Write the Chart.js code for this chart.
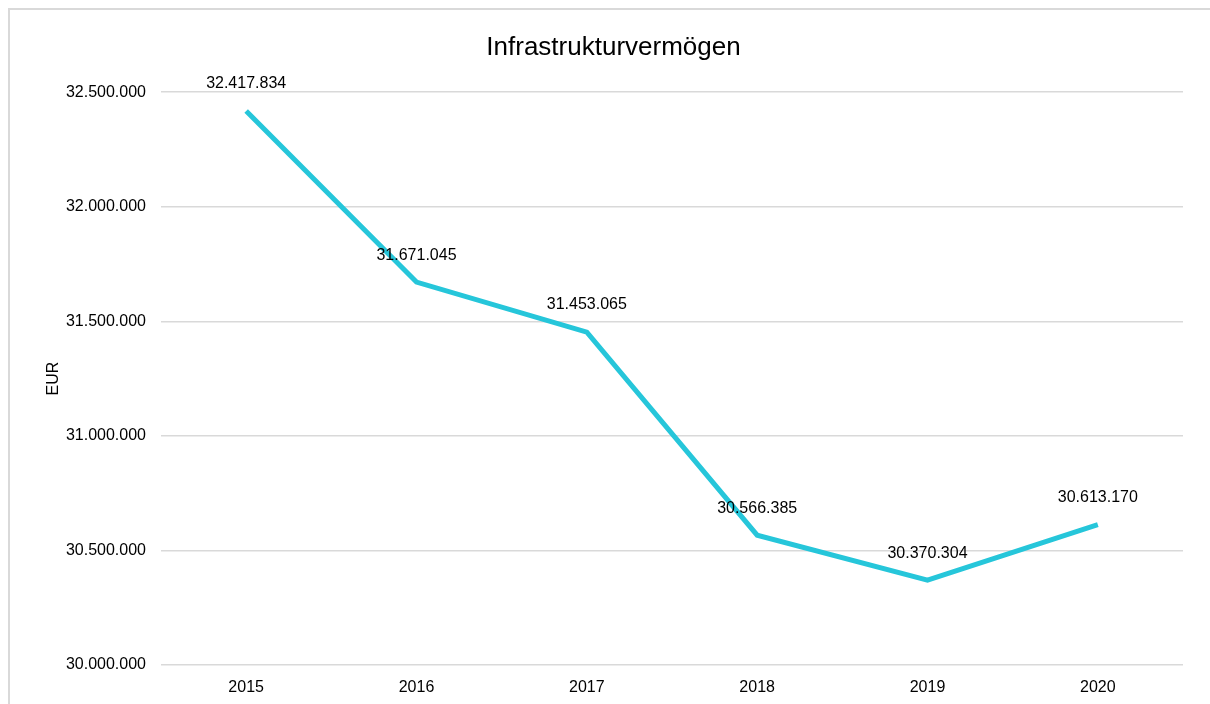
<!DOCTYPE html>
<html>
<head>
<meta charset="utf-8">
<script src="https://cdn.jsdelivr.net/npm/chart.js@4/dist/chart.umd.min.js"></script>
<style>
  html, body { margin: 0; padding: 0; background: #fff; overflow: hidden; }
  #frame { position: absolute; left: 8px; top: 8px; width: 1220px; height: 720px; border: 2px solid #d9d9d9; }
  #wrap { position: absolute; left: 0; top: 0; width: 1210px; height: 704px; }
</style>
</head>
<body>
<div id="frame"></div>
<div id="wrap"><canvas id="chart"></canvas></div>
<script>
const years = ["2015", "2016", "2017", "2018", "2019", "2020"];
const values = [32417834, 31671045, 31453065, 30566385, 30370304, 30613170];
const yMin = 30000000, yMax = 32500000, yStep = 500000;

const fmt = n => Math.round(n).toString().replace(/\B(?=(\d{3})+(?!\d))/g, ".");
const FONT = "'Liberation Sans', Arial, Helvetica, sans-serif";

const pointLabels = {
  id: "pointLabels",
  afterDatasetsDraw(chart) {
    const ctx = chart.ctx;
    const meta = chart.getDatasetMeta(0);
    ctx.save();
    ctx.font = "16px " + FONT;
    ctx.fillStyle = "#000";
    ctx.textAlign = "center";
    ctx.textBaseline = "middle";
    meta.data.forEach((pt, i) => {
      ctx.fillText(fmt(values[i]), pt.x, pt.y - 27);
    });
    ctx.restore();
  }
};

new Chart(document.getElementById("chart"), {
  type: "line",
  data: {
    labels: years,
    datasets: [{
      data: values,
      borderColor: "#26c6da",
      borderWidth: 5,
      pointRadius: 0,
      tension: 0,
      fill: false
    }]
  },
  options: {
    responsive: true,
    maintainAspectRatio: false,
    animation: false,
    layout: { padding: { left: 44, right: 27, top: 20, bottom: 0 } },
    plugins: {
      legend: { display: false },
      tooltip: { enabled: false },
      title: {
        display: true,
        text: "Infrastrukturvermögen",
        color: "#000",
        font: { family: FONT, size: 26, weight: "normal" },
        padding: { top: 12, bottom: 29 }
      }
    },
    scales: {
      x: {
        offset: true,
        grid: { display: false, drawTicks: false },
        border: { display: false },
        ticks: { color: "#000", font: { family: FONT, size: 16 }, padding: 13 },
        afterFit(s) { s.height = 39; }
      },
      y: {
        min: yMin,
        max: yMax,
        border: { display: false },
        grid: { color: "#d9d9d9", lineWidth: 1.5, drawTicks: false },
        ticks: {
          stepSize: yStep,
          color: "#000",
          font: { family: FONT, size: 16 },
          padding: 15,
          callback: v => fmt(v)
        },
        title: {
          display: true,
          text: "EUR",
          color: "#000",
          font: { family: FONT, size: 16 },
          padding: 0
        },
        afterFit(s) { s.width = 117; }
      }
    }
  },
  plugins: [pointLabels]
});
</script>
</body>
</html>
